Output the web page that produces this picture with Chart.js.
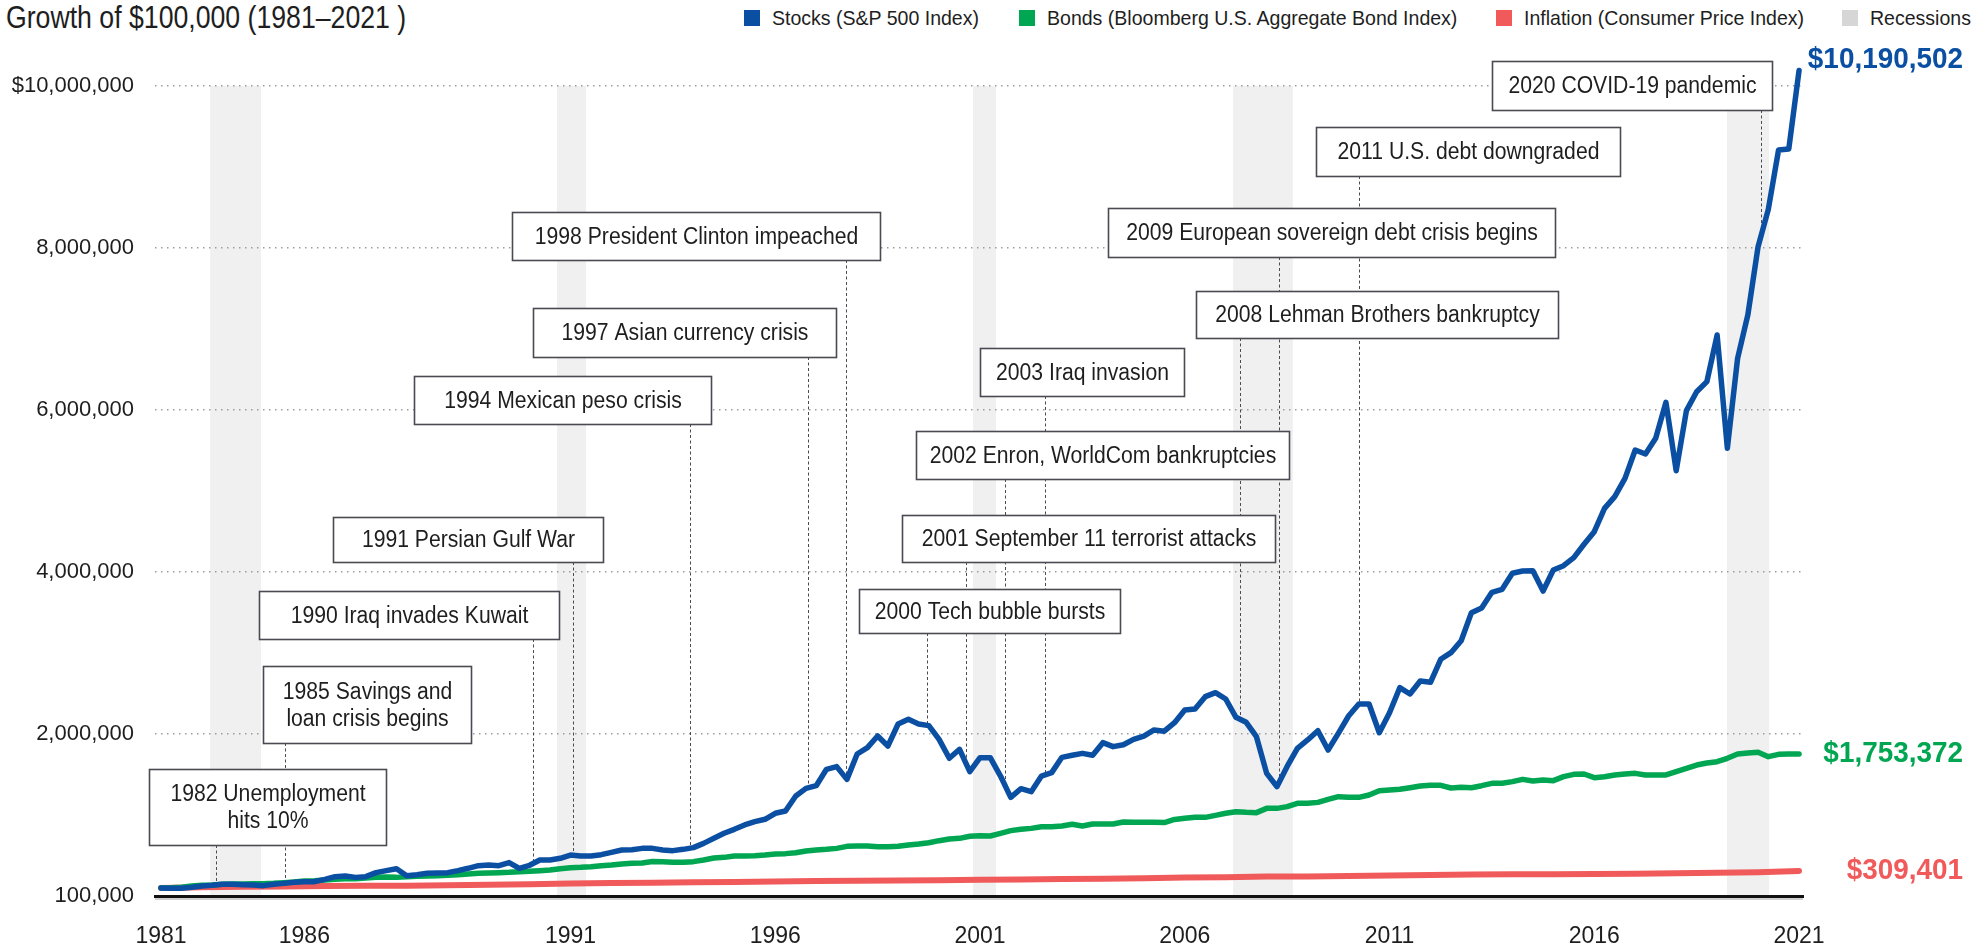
<!DOCTYPE html>
<html>
<head>
<meta charset="utf-8">
<title>Growth of $100,000 (1981–2021)</title>
<script src="https://cdn.jsdelivr.net/npm/chart.js@4.4.1/dist/chart.umd.min.js"></script>
<style>
  html, body { margin: 0; padding: 0; background: #fff; }
  body {
    width: 1986px; height: 947px; position: relative; overflow: hidden;
    font-family: "Liberation Sans", Arial, sans-serif;
    color: #1e1e1e;
  }
  #title {
    position: absolute; left: 6px; top: 0; font-size: 31px; line-height: 36px; white-space: nowrap;
    transform: scaleX(0.86); transform-origin: 0 50%;
  }
  .swatch { position: absolute; top: 10px; width: 16px; height: 16px; }
  .ltext {
    position: absolute; top: 6px; font-size: 21px; line-height: 24px; white-space: nowrap;
    transform: scaleX(0.93); transform-origin: 0 50%;
  }
  canvas { position: absolute; left: 0; top: 0; }
</style>
</head>
<body>
<div id="title">Growth of $100,000 (1981–2021 )</div>
<div id="legend"></div>
<canvas id="chart" width="1986" height="947"></canvas>

<script>
// values in $ thousands, quarterly from 1981 to 2021
const startYear = 1981
const stocks = [
  100, 96, 97, 107, 123, 132, 144, 144, 140, 136,
  128, 144, 156, 169, 177, 177, 206, 239, 247, 230,
  239, 288, 313, 337, 251, 263, 280, 284, 288, 313,
  342, 374, 383, 374, 412, 342, 379, 444, 444, 465,
  506, 494, 494, 510, 539, 568, 572, 588, 588, 568,
  560, 576, 597, 650, 712, 774, 823, 877, 918, 947,
  1021, 1049, 1235, 1329, 1362, 1564, 1597, 1440, 1753, 1831,
  1975, 1852, 2123, 2181, 2123, 2103, 1934, 1700, 1811, 1535,
  1708, 1708, 1481, 1218, 1325, 1288, 1481, 1523, 1712, 1737,
  1761, 1737, 1893, 1844, 1868, 1934, 1975, 2050, 2035, 2140,
  2296, 2309, 2461, 2510, 2432, 2206, 2144, 1967, 1514, 1350,
  1600, 1823, 1926, 2041, 1802, 2008, 2222, 2370, 2370, 2016,
  2263, 2572, 2494, 2654, 2638, 2922, 3004, 3152, 3498, 3556,
  3749, 3786, 3984, 4012, 4016, 3765, 4025, 4078, 4177, 4342,
  4498, 4786, 4930, 5156, 5506, 5457, 5650, 6095, 5251, 5992,
  6226, 6350, 6926, 5527, 6638, 7173, 8016, 8477, 9210, 9222,
  10190.502
]
const bonds = [
  100, 101, 107, 123, 132, 136, 144, 148, 148, 152,
  152, 156, 165, 173, 185, 189, 198, 206, 214, 214,
  222, 230, 235, 230, 239, 243, 247, 251, 255, 263,
  272, 280, 284, 288, 292, 300, 305, 313, 321, 337,
  350, 354, 362, 374, 383, 395, 403, 407, 425, 424,
  416, 416, 424, 444, 469, 477, 494, 494, 498, 506,
  519, 523, 535, 556, 568, 576, 588, 613, 617, 617,
  609, 609, 613, 630, 642, 658, 683, 704, 712, 737,
  745, 741, 774, 807, 823, 835, 856, 856, 864, 885,
  864, 889, 889, 889, 914, 910, 910, 912, 907, 945,
  959, 971, 971, 996, 1021, 1041, 1033, 1029, 1082, 1082,
  1103, 1144, 1144, 1156, 1193, 1226, 1218, 1218, 1247, 1300,
  1309, 1317, 1337, 1358, 1366, 1366, 1333, 1342, 1337, 1362,
  1391, 1391, 1412, 1440, 1420, 1432, 1424, 1473, 1502, 1506,
  1461, 1473, 1494, 1506, 1514, 1494, 1494, 1494, 1535, 1576,
  1617, 1642, 1658, 1700, 1753, 1765, 1774, 1720, 1749, 1753,
  1753.372
]
// yearly
const inflation = [
  100, 109, 113, 117, 122, 127, 128, 134, 140, 146,
  155, 160, 165, 170, 174, 179, 184, 187, 190, 195,
  201, 204, 209, 213, 220, 227, 232, 241, 241, 248,
  252, 259, 264, 268, 270, 271, 276, 282, 287, 293,
  309.401
]

const seriesNames = ['Stocks (S&P 500 Index)', 'Bonds (Bloomberg U.S. Aggregate Bond Index)', 'Inflation (Consumer Price Index)']
const seriesColors = ['#0b4fa3', '#00a651', '#f05a5b']

const xTickLabels = ['1981', '1986', '1991', '1996', '2001', '2006', '2011', '2016', '2021']
const xTickYears = [1981, 1984.5, 1991, 1996, 2001, 2006, 2011, 2016, 2021]
const yTickValues = [0, 2e6, 4e6, 6e6, 8e6, 10e6]
const yTickLabels = ['100,000', '2,000,000', '4,000,000', '6,000,000', '8,000,000', '$10,000,000']

// recession bands [from, to] in years as drawn
const recessions = [[1982.2, 1983.44], [1990.67, 1991.38], [2000.83, 2001.39], [2007.18, 2008.64], [2019.24, 2020.27]]

const eventLabels = [
  ['1982 Unemployment', 'hits 10%'],
  ['1985 Savings and', 'loan crisis begins'],
  ['1990 Iraq invades Kuwait'],
  ['1991 Persian Gulf War'],
  ['1994 Mexican peso crisis'],
  ['1997 Asian currency crisis'],
  ['1998 President Clinton impeached'],
  ['2000 Tech bubble bursts'],
  ['2001 September 11 terrorist attacks'],
  ['2002 Enron, WorldCom bankruptcies'],
  ['2003 Iraq invasion'],
  ['2008 Lehman Brothers bankruptcy'],
  ['2009 European sovereign debt crisis begins'],
  ['2011 U.S. debt downgraded'],
  ['2020 COVID-19 pandemic']
]
const eventYears = [1982.34, 1984.03, 1990.08, 1991.06, 1993.92, 1996.8, 1997.73, 1999.71,
  2000.66, 2001.61, 2002.59, 2007.35, 2008.3, 2010.26, 2020.07]

// callout boxes: [left year, right year, top $M, bottom $M]
const eventBoxes = [
  [1980.71, 1986.49, 1.568, 0.630],
  [1983.49, 1988.57, 2.840, 1.889],
  [1983.39, 1990.72, 3.765, 3.173],
  [1985.20, 1991.79, 4.679, 4.123],
  [1987.18, 1994.43, 6.420, 5.827],
  [1990.08, 1997.48, 7.259, 6.654],
  [1989.57, 1998.56, 8.444, 7.852],
  [1998.05, 2004.42, 3.790, 3.247],
  [1999.10, 2008.20, 4.704, 4.123],
  [1999.44, 2008.55, 5.741, 5.148],
  [2001.00, 2005.98, 6.765, 6.173],
  [2006.27, 2015.11, 7.469, 6.889],
  [2004.13, 2015.04, 8.494, 7.889],
  [2009.21, 2016.63, 9.494, 8.889],
  [2013.50, 2020.34, 10.309, 9.704]
]

const FONT = '"Liberation Sans", Arial, sans-serif'
Chart.defaults.font.family = FONT
Chart.defaults.color = '#1e1e1e'

// legend (html), swatch left edges
const legendX = [744, 1019, 1496, 1842]
const legend = document.getElementById('legend')
seriesNames.concat(['Recessions']).forEach((name, i) => {
  const sw = document.createElement('div')
  sw.className = 'swatch'
  sw.style.left = legendX[i] + 'px'
  sw.style.background = seriesColors[i] || '#d6d6d6'
  const tx = document.createElement('div')
  tx.className = 'ltext'
  tx.style.left = (legendX[i] + 28) + 'px'
  tx.textContent = name
  legend.appendChild(sw)
  legend.appendChild(tx)
})

const quarterly = arr => arr.map((v, i) => ({ x: startYear + i / 4, y: v * 1000 }))
const yearly = arr => arr.map((v, i) => ({ x: startYear + i, y: v * 1000 }))

function stockAt(year) {
  const q = (year - startYear) * 4
  const i = Math.min(Math.floor(q), stocks.length - 2)
  const f = q - i
  return (stocks[i] * (1 - f) + stocks[i + 1] * f) * 1000
}

function narrowText(ctx, text, x, y, sx) {
  ctx.save()
  ctx.translate(x, y)
  ctx.scale(sx, 1)
  ctx.fillText(text, 0, 0)
  ctx.restore()
}

const recessionBands = {
  id: 'recessionBands',
  beforeDraw(chart) {
    const { ctx, scales: { x, y } } = chart
    ctx.save()
    ctx.fillStyle = '#f0f0f0'
    const top = y.getPixelForValue(10e6)
    const bottom = y.getPixelForValue(0)
    recessions.forEach(([a, b]) => {
      const x0 = x.getPixelForValue(a)
      const x1 = x.getPixelForValue(b)
      ctx.fillRect(x0, top, x1 - x0, bottom - top)
    })
    ctx.restore()
  }
}

const eventCallouts = {
  id: 'eventCallouts',
  beforeDatasetsDraw(chart) {
    const { ctx, scales: { x, y } } = chart
    ctx.save()
    ctx.strokeStyle = '#4a4a52'
    ctx.lineWidth = 1
    ctx.setLineDash([3, 2.5])
    eventYears.forEach((yr, i) => {
      const px = Math.round(x.getPixelForValue(yr)) + 0.5
      ctx.beginPath()
      ctx.moveTo(px, y.getPixelForValue(eventBoxes[i][3] * 1e6))
      ctx.lineTo(px, y.getPixelForValue(stockAt(yr)))
      ctx.stroke()
    })
    ctx.restore()
  },
  afterDatasetsDraw(chart) {
    const { ctx, scales: { x, y } } = chart
    ctx.save()
    ctx.font = `23.5px ${FONT}`
    ctx.textAlign = 'center'
    ctx.textBaseline = 'middle'
    eventBoxes.forEach(([a, b, t, btm], i) => {
      const x0 = Math.round(x.getPixelForValue(a)) + 0.5
      const x1 = Math.round(x.getPixelForValue(b)) + 0.5
      const y0 = Math.round(y.getPixelForValue(t * 1e6)) + 0.5
      const y1 = Math.round(y.getPixelForValue(btm * 1e6)) + 0.5
      ctx.fillStyle = '#fff'
      ctx.fillRect(x0, y0, x1 - x0, y1 - y0)
      ctx.strokeStyle = '#4a4a52'
      ctx.lineWidth = 1.6
      ctx.strokeRect(x0, y0, x1 - x0, y1 - y0)
      ctx.fillStyle = '#1e1e1e'
      const lines = eventLabels[i]
      const lh = 27
      const cy = (y0 + y1) / 2 - (lines.length - 1) * lh / 2
      lines.forEach((l, j) => narrowText(ctx, l, (x0 + x1) / 2, cy + j * lh + 1, 0.9))
    })
    ctx.restore()
  }
}

const endLabels = {
  id: 'endLabels',
  afterDatasetsDraw(chart) {
    const { ctx, scales: { y } } = chart
    ctx.save()
    ctx.font = `bold 30px ${FONT}`
    ctx.textAlign = 'right'
    ctx.textBaseline = 'middle'
    chart.data.datasets.forEach((ds, i) => {
      const last = ds.data[ds.data.length - 1].y
      const py = y.getPixelForValue(last) + (i === 0 ? -11 : 0)
      ctx.fillStyle = seriesColors[i]
      narrowText(ctx, '$' + Math.round(last).toLocaleString('en-US'), 1963, py, 0.93)
    })
    ctx.restore()
  },
  afterDraw(chart) {
    // light shadow under the base line
    const { ctx, chartArea } = chart
    ctx.save()
    ctx.strokeStyle = '#cfcfcf'
    ctx.lineWidth = 2
    ctx.beginPath()
    ctx.moveTo(chartArea.left, chartArea.bottom + 3)
    ctx.lineTo(chartArea.right, chartArea.bottom + 3)
    ctx.stroke()
    ctx.restore()
  }
}

new Chart(document.getElementById('chart'), {
  type: 'line',
  data: {
    datasets: [
      { label: seriesNames[0], data: quarterly(stocks) },
      { label: seriesNames[1], data: quarterly(bonds) },
      { label: seriesNames[2], data: yearly(inflation), borderWidth: 6 }
    ].map((ds, i) => Object.assign({
      borderColor: seriesColors[i],
      backgroundColor: seriesColors[i],
      borderWidth: 5.5,
      pointRadius: 0,
      tension: 0,
      borderJoinStyle: 'round',
      borderCapStyle: 'round'
    }, ds))
  },
  options: {
    responsive: false,
    animation: false,
    events: [],
    layout: { padding: { top: 54, right: 183, left: 0, bottom: 0 } },
    plugins: { legend: { display: false }, tooltip: { enabled: false } },
    scales: {
      x: {
        type: 'linear',
        min: 1980.853,
        max: 2021.097,
        grid: { display: false, drawTicks: false },
        border: { display: true, color: '#111', width: 3 },
        afterBuildTicks: scale => { scale.ticks = xTickYears.map(v => ({ value: v })) },
        afterFit: scale => { scale.height = 51 },
        ticks: {
          autoSkip: false,
          maxRotation: 0,
          padding: 27,
          font: { size: 23 },
          color: '#1e1e1e',
          callback: (v, i) => xTickLabels[i]
        }
      },
      y: {
        min: 0,
        max: 10.395e6,
        afterBuildTicks: scale => { scale.ticks = yTickValues.map(v => ({ value: v })) },
        afterFit: scale => { scale.width = 155 },
        grid: {
          drawTicks: false,
          lineWidth: 1.5,
          color: c => (c.tick && c.tick.value === 0 ? 'rgba(0,0,0,0)' : '#9c9c9c')
        },
        border: { display: false, dash: [1.5, 4.5] },
        ticks: {
          padding: 21,
          font: { size: 22 },
          color: '#1e1e1e',
          callback: (v, i) => yTickLabels[i]
        }
      }
    }
  },
  plugins: [recessionBands, eventCallouts, endLabels]
})
</script>
</body>
</html>
